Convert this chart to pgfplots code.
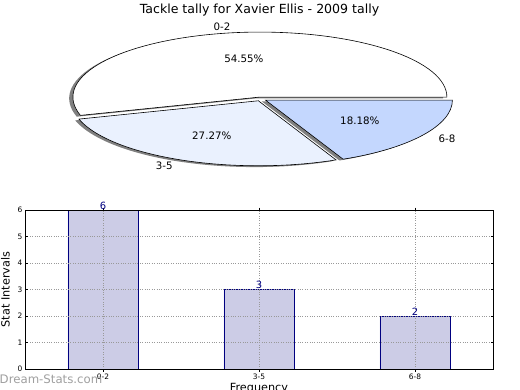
\documentclass[border=0pt]{standalone}
\usepackage{fontspec}
\setmainfont{DejaVu Sans}
\usepackage{pgfplots}
\pgfplotsset{compat=1.18}
\definecolor{barfill}{RGB}{204,204,230}
\definecolor{baredge}{RGB}{0,0,128}
\definecolor{sliceA}{RGB}{255,255,255}
\definecolor{sliceB}{RGB}{234,241,254}
\definecolor{sliceC}{RGB}{196,215,254}
\definecolor{shadowc}{RGB}{128,128,128}

% pie values
\def\vA{6}\def\vB{3}\def\vC{2}
\pgfmathsetmacro\tot{\vA+\vB+\vC}
\pgfmathsetmacro\aA{360*\vA/\tot}
\pgfmathsetmacro\aB{\aA+360*\vB/\tot}
\pgfmathsetmacro\mA{\aA/2}
\pgfmathsetmacro\mB{(\aA+\aB)/2}
\pgfmathsetmacro\mC{(\aB+360)/2}
\def\ex{0.03}

% wedge: #1 start, #2 end, #3 mid, #4 style, #5 extra offset x, #6 extra offset y
\newcommand\pieWedge[6]{%
  \path[#4] (axis cs:{\ex*cos(#3)+#5},{\ex*sin(#3)+#6})
    -- (axis cs:{\ex*cos(#3)+#5+cos(#1)},{\ex*sin(#3)+#6+sin(#1)})
    arc[start angle=#1, end angle=#2, x radius=187bp, y radius=65bp] -- cycle;}

\begin{document}
\begin{tikzpicture}
\useasboundingbox (0bp,0bp) rectangle (520bp,-390bp);

\node[font=\fontsize{12.6}{14}\selectfont] at (259.5bp,-10.5bp) {Tackle tally for Xavier Ellis - 2009 tally};

\begin{axis}[hide axis, scale only axis, clip=false,
  width=523.6bp, height=182bp,
  xmin=-1.4, xmax=1.4, ymin=-1.4, ymax=1.4,
  at={(260.7bp,-99bp)}, anchor=center]
  % shadows
  \pieWedge{0}{\aA}{\mA}{fill=shadowc}{-0.02}{-0.02}
  \pieWedge{\aA}{\aB}{\mB}{fill=shadowc}{-0.02}{-0.02}
  \pieWedge{\aB}{360}{\mC}{fill=shadowc}{-0.02}{-0.02}
  % wedges
  \pieWedge{0}{\aA}{\mA}{fill=sliceA, draw=black, line width=0.6bp}{0}{0}
  \pieWedge{\aA}{\aB}{\mB}{fill=sliceB, draw=black, line width=0.6bp}{0}{0}
  \pieWedge{\aB}{360}{\mC}{fill=sliceC, draw=black, line width=0.6bp}{0}{0}
  % labels
  \node[anchor=east, inner sep=0pt, font=\fontsize{10.3}{12}\selectfont] at (axis cs:{1.1*cos(\mA)+\ex*cos(\mA)},{1.1*sin(\mA)+\ex*sin(\mA)}) {0-2};
  \node[anchor=east, inner sep=0pt, font=\fontsize{10.3}{12}\selectfont] at (axis cs:{1.1*cos(\mB)+\ex*cos(\mB)},{1.1*sin(\mB)+\ex*sin(\mB)}) {3-5};
  \node[anchor=west, inner sep=0pt, font=\fontsize{10.3}{12}\selectfont] at (axis cs:{1.1*cos(\mC)+\ex*cos(\mC)},{1.1*sin(\mC)+\ex*sin(\mC)}) {6-8};
  \node[inner sep=0pt, font=\fontsize{10.3}{12}\selectfont] at (axis cs:{0.6*cos(\mA)+\ex*cos(\mA)},{0.6*sin(\mA)+\ex*sin(\mA)}) {54.55\%};
  \node[inner sep=0pt, font=\fontsize{10.3}{12}\selectfont] at (axis cs:{0.6*cos(\mB)+\ex*cos(\mB)},{0.6*sin(\mB)+\ex*sin(\mB)}) {27.27\%};
  \node[inner sep=0pt, font=\fontsize{10.3}{12}\selectfont] at (axis cs:{0.6*cos(\mC)+\ex*cos(\mC)},{0.6*sin(\mC)+\ex*sin(\mC)}) {18.18\%};
\end{axis}

\begin{axis}[at={(25bp,-369bp)}, anchor=south west, scale only axis,
  width=468bp, height=159bp,
  xmin=-0.5, xmax=2.5, ymin=0, ymax=6,
  xtick={0,1,2}, xticklabels={0-2,3-5,6-8}, ytick={0,1,2,3,4,5,6},
  grid=major, grid style={dotted, gray!80, line width=0.6bp},
  axis on top,
  tick align=inside, major tick length=2.5bp,
  tick style={black, line width=0.5bp},
  axis line style={black, line width=0.8bp},
  tick label style={font=\fontsize{7.5}{8}\selectfont},
  xticklabel style={yshift=1bp},
  yticklabel style={xshift=1bp},
  /pgf/number format/assume math mode=true,
  xlabel={Frequency}, ylabel={Stat Intervals},
  label style={font=\fontsize{11.3}{13}\selectfont},
  xlabel style={yshift=3bp},
  ylabel style={yshift=1bp},
  ybar, bar width=0.45,
  nodes near coords,
  nodes near coords style={font=\fontsize{10}{11}\selectfont, text=baredge, inner sep=0pt, anchor=base, yshift=1bp},
  ]
  \addplot[fill=barfill, draw=baredge, line width=0.7bp] coordinates {(0,6) (1,3) (2,2)};
\end{axis}

\node[anchor=west, inner sep=0pt, text=gray!75, font=\fontsize{11.8}{13}\selectfont] at (-0.5bp,-379.5bp) {Dream-Stats.com};
\end{tikzpicture}
\end{document}
